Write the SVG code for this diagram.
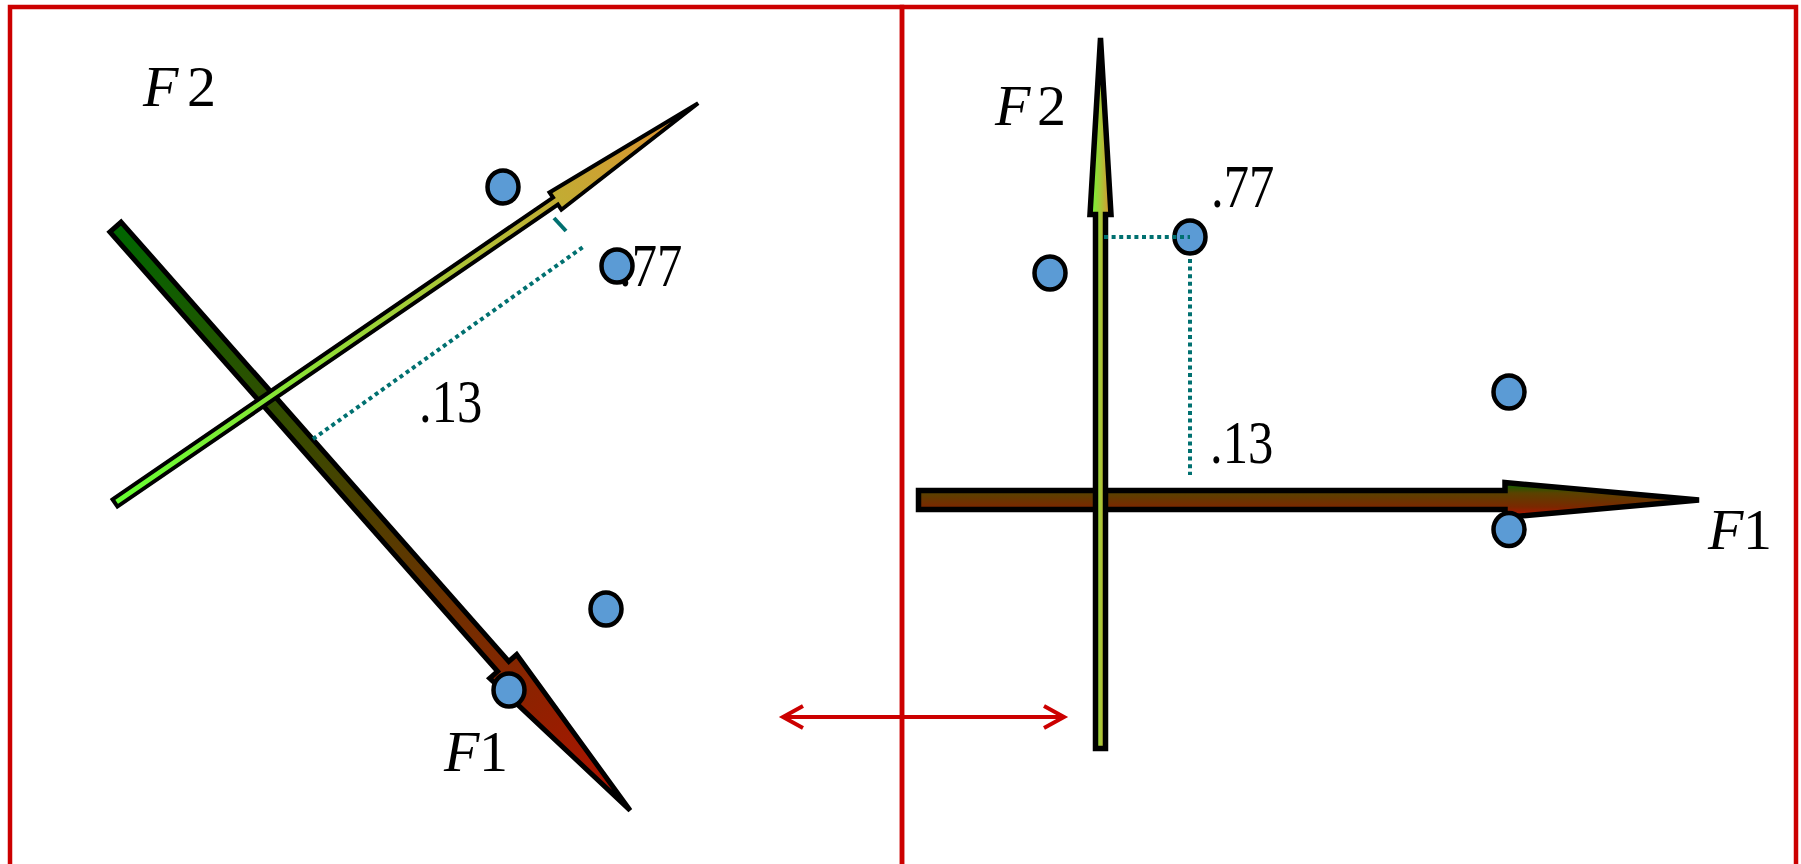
<svg xmlns="http://www.w3.org/2000/svg" width="1801" height="864" viewBox="0 0 1801 864">
<defs>
<linearGradient id="gF1a" x1="0" y1="0" x2="1" y2="0">
<stop offset="0" stop-color="#006600"/><stop offset="0.5" stop-color="#503e00"/><stop offset="1" stop-color="#b41000"/>
</linearGradient>
<linearGradient id="gF2a" x1="0" y1="0" x2="1" y2="0">
<stop offset="0" stop-color="#66ff33"/><stop offset="0.55" stop-color="#a8c838"/><stop offset="1" stop-color="#e08c2e"/>
</linearGradient>
<linearGradient id="gF1b" x1="0" y1="0" x2="0" y2="1">
<stop offset="0" stop-color="#006400"/><stop offset="0.3" stop-color="#5a4200"/><stop offset="0.7" stop-color="#7a2800"/><stop offset="1" stop-color="#c01000"/>
</linearGradient>
<linearGradient id="gF2b" x1="0" y1="0" x2="1" y2="0">
<stop offset="0" stop-color="#66ff33"/><stop offset="0.5" stop-color="#a8c838"/><stop offset="1" stop-color="#e08c2e"/>
</linearGradient>
</defs>
<style>
.frame{fill:none;stroke:#cc0000;stroke-width:4.5}
.arr{stroke:#000;stroke-linejoin:miter}
.pt{fill:#5b9bd5;stroke:#000;stroke-width:4.5}
.dot{fill:none;stroke:#007070;stroke-width:4;stroke-dasharray:4 3.6}
.red{fill:none;stroke:#cc0000;stroke-width:4}
.t{font-family:"Liberation Serif","Times New Roman",serif;font-size:58px;fill:#000}
.n{font-size:61px}
.i{font-style:italic}
</style>
<rect width="1801" height="864" fill="#fff"/>
<g id="frames">
<rect class="frame" x="10" y="7" width="892" height="900"/>
<rect class="frame" x="902" y="7" width="894" height="900"/>
</g>
<g id="left-axes">
<g id="left-F1" transform="translate(115.5,227) rotate(48.58)">
<polygon class="arr" fill="url(#gF1a)" stroke-width="5" points="0,-7.5 586,-7.5 586,-18 778,0 586,18 586,7.5 0,7.5"/>
</g>
<g id="left-F2" transform="translate(115,503) rotate(-34.43)">
<polygon class="arr" fill="url(#gF2a)" stroke-width="4" points="0,-4.3 534,-4.3 534,-10.5 707,0 534,10.5 534,4.3 0,4.3"/>
</g>
</g>
<g id="right-axes">
<g id="right-F1">
<polygon class="arr" fill="url(#gF1b)" stroke-width="5.5" points="918.5,490.5 1505,490.5 1505,482.5 1699,500 1505,517.5 1505,509.5 918.5,509.5"/>
</g>
<g id="right-F2">
<polygon class="arr" fill="url(#gF2b)" stroke-width="5.5" points="1095.5,748.5 1095.5,214.5 1090,214.5 1100.5,38 1111,214.5 1105.5,214.5 1105.5,748.5"/>
</g>
</g>
<g id="labels">
<text class="t" x="143" y="106"><tspan class="i">F</tspan><tspan x="187">2</tspan></text>
<text class="t" x="444" y="771"><tspan class="i">F</tspan><tspan x="479">1</tspan></text>
<text class="t n" transform="translate(619,286) scale(0.83,1)">.77</text>
<text class="t n" transform="translate(419,422) scale(0.83,1)">.13</text>
<text class="t" x="995" y="125"><tspan class="i">F</tspan><tspan x="1037">2</tspan></text>
<text class="t" x="1708" y="549"><tspan class="i">F</tspan><tspan x="1743">1</tspan></text>
<text class="t n" transform="translate(1211,207) scale(0.83,1)">.77</text>
<text class="t n" transform="translate(1210,463) scale(0.83,1)">.13</text>
</g>
<g id="points">
<ellipse class="pt" cx="503" cy="187" rx="15.5" ry="16.5"/>
<ellipse class="pt" cx="617" cy="266" rx="15.5" ry="16.5"/>
<ellipse class="pt" cx="606" cy="609" rx="15.5" ry="16.5"/>
<ellipse class="pt" cx="509" cy="690" rx="15.5" ry="16.5"/>
<ellipse class="pt" cx="1050" cy="273" rx="15.5" ry="16.5"/>
<ellipse class="pt" cx="1190" cy="237" rx="15.5" ry="16.5"/>
<ellipse class="pt" cx="1509" cy="392" rx="15.5" ry="16.5"/>
<ellipse class="pt" cx="1509" cy="529.5" rx="15.5" ry="16.5"/>
</g>
<g id="connectors">
<line class="dot" x1="313" y1="439" x2="583" y2="247"/>
<line x1="554" y1="218" x2="566" y2="231" stroke="#007070" stroke-width="4"/>
<line class="dot" x1="1104" y1="237" x2="1190" y2="237"/>
<line class="dot" x1="1190" y1="259" x2="1190" y2="475"/>
<line class="red" x1="785" y1="717" x2="1062" y2="717"/>
<polyline class="red" points="803,706 783,717 803,728"/>
<polyline class="red" points="1044,706 1064,717 1044,728"/>
</g>
</svg>
